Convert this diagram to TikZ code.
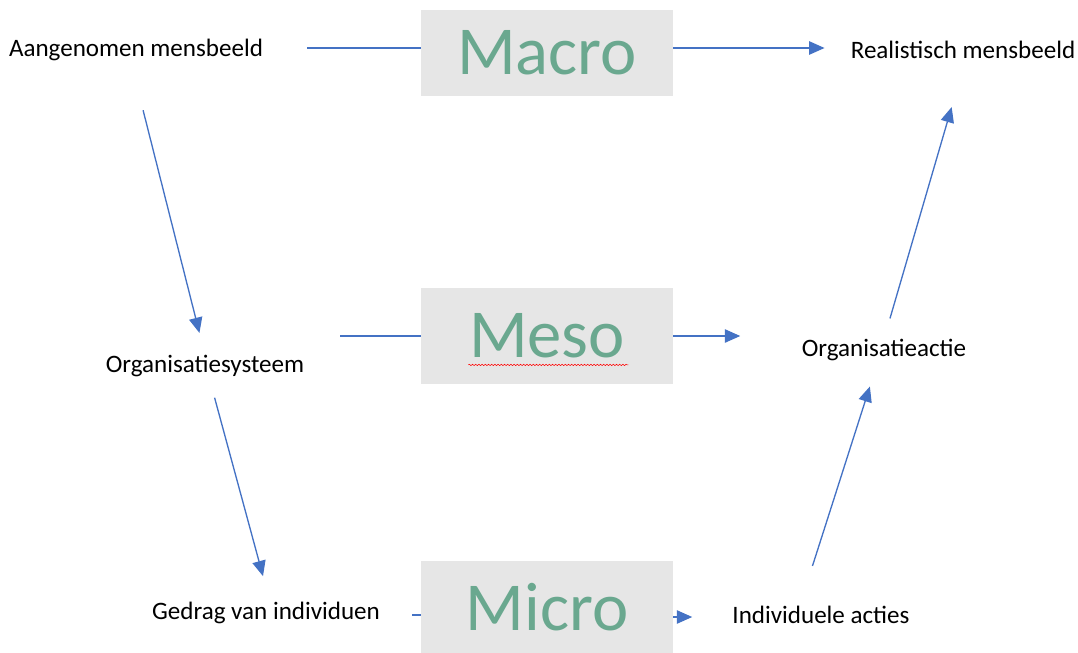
\documentclass[tikz,border=0pt]{standalone}
\usepackage{fontspec}
\setmainfont{Carlito}
\usepackage{tikz}
\usetikzlibrary{arrows.meta,positioning,decorations.pathmorphing}
\definecolor{lvlgray}{HTML}{E6E6E6}
\definecolor{lvlgreen}{HTML}{6AA88F}
\definecolor{linkblue}{HTML}{4472C4}
\def\px{0.75pt}
\tikzstyle{label} = [inner sep=0pt, font=\fontsize{18.8}{21}\selectfont, text=black]
\tikzstyle{level} = [fill=lvlgray, inner sep=0pt, minimum width=189pt, font=\fontsize{51.5}{55}\selectfont, text=lvlgreen]
\tikzstyle{link} = [linkblue, line width=1pt]
\tikzstyle{arrow} = [link, -{Triangle[length=11.5pt,width=10pt]}]

\begin{document}
\begin{tikzpicture}[x=\px, y=-\px]
        \useasboundingbox (0,0) rectangle (1078,653);
        % labels left and right
        \node[label] (aang) at (136,50) {Aangenomen mensbeeld};
        \node[label] (real) at (963,50) {Realistisch mensbeeld};
        \node[label] (orgsys) at (205,366) {Organisatiesysteem};
        \node[label] (orgact) at (884,350) {Organisatieactie};
        \node[label] (gedrag) at (266,613) {Gedrag van individuen};
        \node[label] (indiv) at (821,615) {Individuele acties};
        % the three levels
        \node[level, minimum height=65pt] (macro) at (547,53) {Macro};
        \node[level, minimum height=72pt] (meso) at (547,336) {Meso};
        \node[level, minimum height=69pt] (micro) at (547,607) {Micro};
        \draw[red, line width=0.4pt, decorate, decoration={snake, amplitude=0.5pt, segment length=2.4pt}]
            ([xshift=-59pt,yshift=14.5pt]meso.south) -- ([xshift=61pt,yshift=14.5pt]meso.south);
        % horizontal links through the levels
        \draw[link, shorten <=33pt] (aang.east |- 0,48) -- (macro.west |- 0,48);
        \draw[arrow, shorten >=19.5pt] (macro.east |- 0,48) -- (real.west |- 0,48);
        \draw[link, shorten <=27pt] (orgsys.east |- meso.west) -- (meso.west);
        \draw[arrow, shorten >=46pt] (meso.east) -- (orgact.west |- meso.east);
        \draw[link, shorten <=24pt] (gedrag.east |- 0,615) -- (micro.west |- 0,615);
        \draw[arrow, shorten >=30pt] (micro.east |- 0,617) -- (indiv.west |- 0,617);
        % down on the left, up on the right
        \draw[arrow, shorten <=38pt, shorten >=17pt] ([xshift=-4pt]aang.south) -- (orgsys.north);
        \draw[arrow, shorten <=16pt, shorten >=20pt] ([xshift=3pt]orgsys.south) -- ([xshift=3pt]gedrag.north);
        \draw[arrow, shorten <=31.5pt, shorten >=20pt] ([xshift=-16pt]indiv.north) -- ([xshift=-4.5pt]orgact.south);
        \draw[arrow, shorten <=16pt, shorten >=37.5pt] (orgact.north) -- ([xshift=2pt]real.south);
\end{tikzpicture}
\end{document}
